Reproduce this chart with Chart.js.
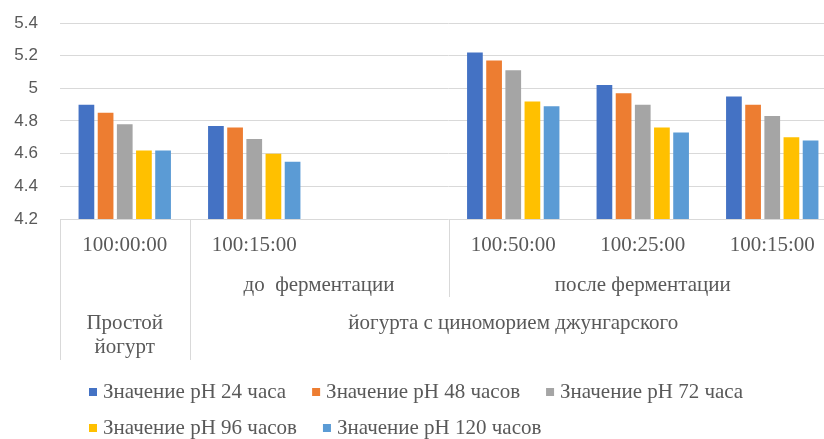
<!DOCTYPE html>
<html>
<head>
<meta charset="utf-8">
<script src="https://cdn.jsdelivr.net/npm/chart.js@4/dist/chart.umd.min.js"></script>
<style>
  html, body { margin: 0; padding: 0; background: #fff; overflow: hidden; }
  #wrap { width: 840px; height: 439px; }
</style>
</head>
<body>
<div id="wrap"><canvas id="chart"></canvas></div>
<script>
// categories (third slot is empty in the original)
const categories = ['100:00:00', '100:15:00', '', '100:50:00', '100:25:00', '100:15:00'];
// second and third level of the category axis: [fromSlot, toSlot, text lines]
const level2 = [[1, 3, ['до  ферментации']], [3, 6, ['после ферментации']]];
const level3 = [[0, 1, ['Простой', 'йогурт']], [1, 6, ['йогурта с циноморием джунгарского']]];

const seriesNames = ['Значение pH 24 часа', 'Значение pH 48 часов', 'Значение pH 72 часа',
  'Значение pH 96 часов', 'Значение pH 120 часов'];
const ph24 = [4.90, 4.77, null, 5.22, 5.02, 4.95];
const ph48 = [4.85, 4.76, null, 5.17, 4.97, 4.90];
const ph72 = [4.78, 4.69, null, 5.11, 4.90, 4.83];
const ph96 = [4.62, 4.60, null, 4.92, 4.76, 4.70];
const ph120 = [4.62, 4.55, null, 4.89, 4.73, 4.68];

const yMin = 4.2, yMax = 5.4, yStep = 0.2;

const colors = ['#4472C4', '#ED7D31', '#A5A5A5', '#FFC000', '#5B9BD5'];
const textColor = '#595959';
const lineColor = '#d9d9d9';
const serif = '"Liberation Serif", "DejaVu Serif", serif';

// extra category-axis levels + legend, drawn after the chart
const levels = {
  id: 'levels',
  afterDraw(chart) {
    const { ctx, chartArea, scales: { x } } = chart;
    const slot = x.getPixelForValue(1) - x.getPixelForValue(0);
    const edge = i => x.getPixelForValue(0) - slot / 2 + i * slot;
    const base = chartArea.bottom;

    ctx.save();
    ctx.strokeStyle = lineColor;
    ctx.lineWidth = 1;
    const vline = (px, bottom) => {
      ctx.beginPath();
      ctx.moveTo(Math.round(px) + 0.5, base);
      ctx.lineTo(Math.round(px) + 0.5, bottom);
      ctx.stroke();
    };
    vline(edge(0), base + 141);
    level3.forEach(([from]) => vline(edge(from), base + 141));
    level2.forEach(([from]) => vline(edge(from), base + 78));

    ctx.fillStyle = textColor;
    ctx.font = '21px ' + serif;
    ctx.textAlign = 'center';
    ctx.textBaseline = 'middle';
    const put = (rows, y0) => rows.forEach(([from, to, lines]) => {
      const cx = (edge(from) + edge(to)) / 2;
      lines.forEach((t, k) => ctx.fillText(t, cx, y0 + k * 24));
    });
    put(level2, base + 66);
    put(level3, base + 104);

    // legend
    ctx.font = '21px ' + serif;
    ctx.textAlign = 'left';
    let lx = 89, ly = base + 173;
    chart.data.datasets.forEach(ds => {
      const w = 14 + ctx.measureText(ds.label).width;
      if (lx + w > 810) { lx = 89; ly += 36; }
      ctx.fillStyle = ds.backgroundColor;
      ctx.fillRect(lx, ly - 4, 8, 8);
      ctx.fillStyle = textColor;
      ctx.fillText(ds.label, lx + 14, ly);
      lx += w + 26;
    });
    ctx.restore();
  }
};

const allSeries = [ph24, ph48, ph72, ph96, ph120];

new Chart(document.getElementById('chart'), {
  type: 'bar',
  data: {
    labels: categories,
    datasets: allSeries.map((d, i) => ({
      label: seriesNames[i],
      data: d,
      backgroundColor: colors[i],
      categoryPercentage: 0.74,
      barPercentage: 0.82
    }))
  },
  options: {
    responsive: true,
    maintainAspectRatio: false,
    animation: false,
    layout: { padding: { top: 23, bottom: 70, left: 0, right: 3 } },
    plugins: { legend: { display: false }, tooltip: { enabled: false } },
    scales: {
      x: {
        grid: { display: false },
        border: { display: false },
        ticks: { color: textColor, font: { family: serif, size: 21 }, padding: 6, maxRotation: 0, autoSkip: false },
        afterFit(scale) { scale.height = 150; }
      },
      y: {
        min: yMin,
        max: yMax,
        grid: { color: lineColor, drawTicks: true, tickLength: 20, tickColor: 'rgba(0,0,0,0)' },
        border: { display: false },
        ticks: {
          stepSize: yStep,
          padding: 2,
          color: textColor,
          font: { family: '"Liberation Sans", Arial, sans-serif', size: 17 },
          callback: v => String(Number(v.toFixed(1)))
        },
        afterFit(scale) { scale.width = 60; }
      }
    }
  },
  plugins: [levels]
});
</script>
</body>
</html>
